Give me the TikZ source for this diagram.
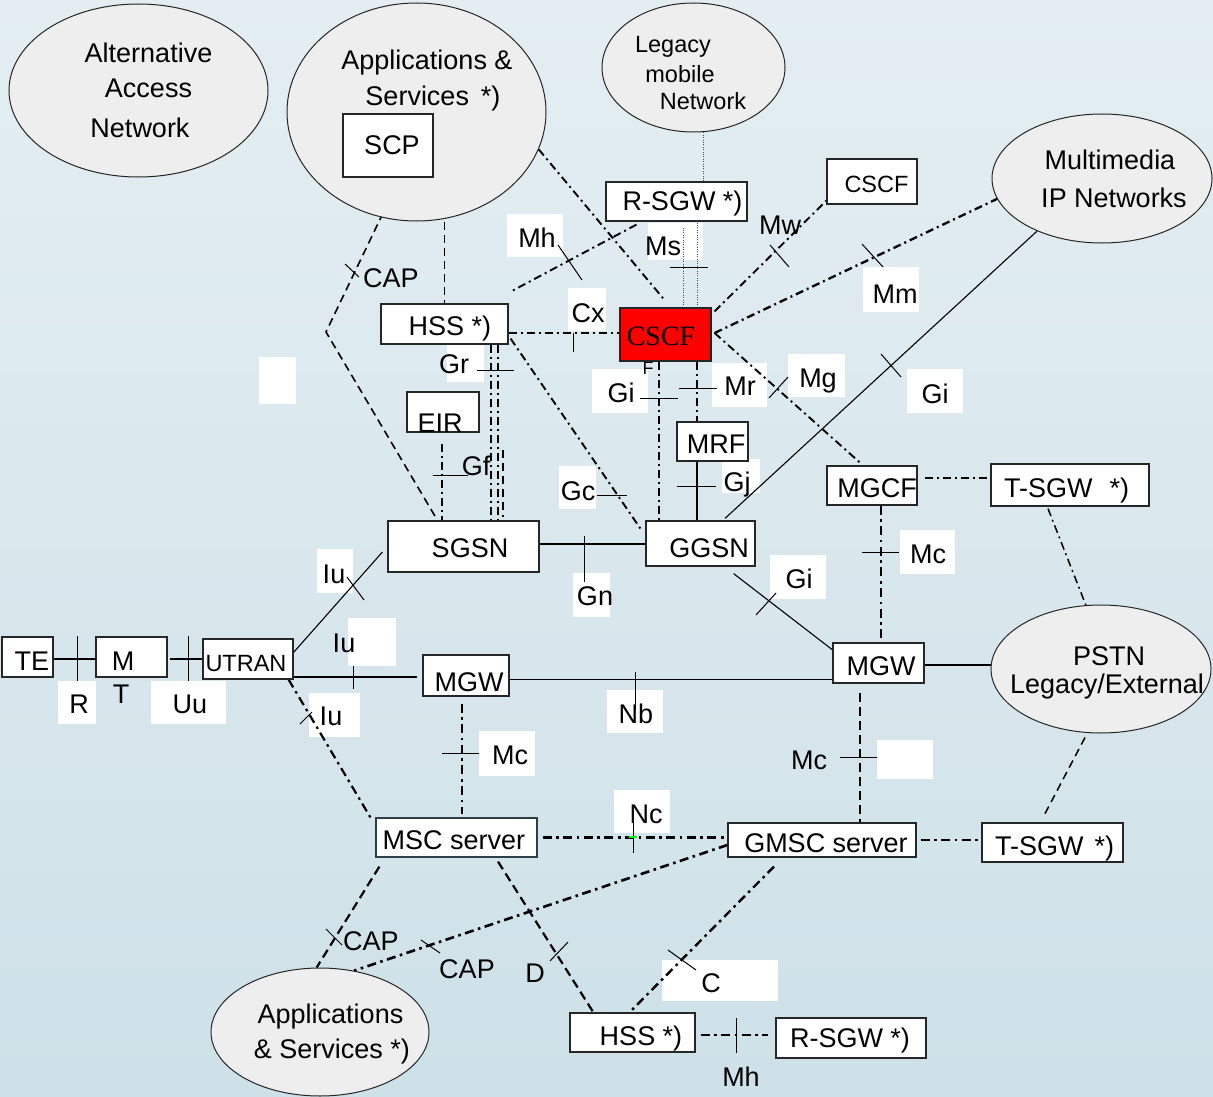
\documentclass[tikz,border=0pt]{standalone}
\usepackage{fontspec}
\usetikzlibrary{shapes.geometric}
\setmainfont{Liberation Sans}
\newfontfamily\timesfont{Liberation Serif}
\pgfdeclarelayer{bg}
\pgfdeclarelayer{wires}
\pgfsetlayers{bg,wires,main}
\definecolor{bgtop}{RGB}{228,238,242}
\definecolor{bgbot}{RGB}{206,225,232}
\definecolor{ovalfill}{RGB}{238,238,238}
\definecolor{slate}{RGB}{45,62,72}
\begin{document}
\begin{tikzpicture}[x=1pt,y=-1pt,
  big/.style={font=\fontsize{27}{31}\selectfont},
  smallf/.style={font=\fontsize{23.5}{27}\selectfont},
  t/.style={inner sep=0pt, anchor=base, big},
  ts/.style={inner sep=0pt, anchor=base, smallf},
  box/.style={draw=black!85, fill=white, line width=1.2pt, inner sep=0pt},
  oval/.style={ellipse, draw=black!85, fill=ovalfill, line width=1pt, inner sep=0pt},
  wbox/.style={fill=white, inner sep=0pt},
  ln/.style={line width=1.1pt},
  dda/.style={line width=1.9pt, dash pattern=on 8pt off 4pt on 2pt off 4pt},
  ddb/.style={line width=2.6pt, dash pattern=on 9pt off 4.5pt on 2.6pt off 4.5pt},
  dsa/.style={line width=1.6pt, dash pattern=on 8pt off 5pt},
  dsb/.style={line width=2.4pt, dash pattern=on 9pt off 5pt},
  dtl/.style={line width=0.7pt, dash pattern=on 1pt off 1.4pt, black!70},
  tk/.style={line width=1pt},
]
\useasboundingbox (0,0) rectangle (1213,1097);

% ---------- background and white label plates ----------
\begin{pgfonlayer}{bg}
  \shade[top color=bgtop, bottom color=bgbot] (0,0) rectangle (1213,1097);
  \node[wbox, minimum width=56, minimum height=43] (p-mh1) at (535,235.5) {};
  \node[wbox, minimum width=55, minimum height=37] (p-ms) at (675.5,241.5) {};
  \node[wbox, minimum width=38, minimum height=43] (p-cx) at (587,309.5) {};
  \node[wbox, minimum width=37, minimum height=38] (p-gr) at (465.5,363) {};
  \node[wbox, minimum width=56, minimum height=44] (p-gi1) at (620,391) {};
  \node[wbox, minimum width=55, minimum height=44] (p-mr) at (739.5,385) {};
  \node[wbox, minimum width=57, minimum height=43] (p-mg) at (816.5,375.5) {};
  \node[wbox, minimum width=56, minimum height=44] (p-gi2) at (935,391) {};
  \node[wbox, minimum width=56, minimum height=45] (p-mm) at (891,289.5) {};
  \node[wbox, minimum width=37, minimum height=47] (p-e1) at (277.5,380.5) {};
  \node[wbox, minimum width=37, minimum height=43] (p-gc) at (577.5,487.5) {};
  \node[wbox, minimum width=38, minimum height=34] (p-gj) at (741,476) {};
  \node[wbox, minimum width=37, minimum height=44] (p-gn) at (591.5,595) {};
  \node[wbox, minimum width=56, minimum height=44] (p-gi3) at (798,577) {};
  \node[wbox, minimum width=55, minimum height=44] (p-mc1) at (927.5,552) {};
  \node[wbox, minimum width=36, minimum height=44] (p-iu1) at (335,571) {};
  \node[wbox, minimum width=48, minimum height=48] (p-iu2) at (372,642) {};
  \node[wbox, minimum width=51, minimum height=44] (p-iu3) at (334.5,715) {};
  \node[wbox, minimum width=38, minimum height=43] (p-r) at (77,702.5) {};
  \node[wbox, minimum width=75, minimum height=43] (p-uu) at (188.5,702.5) {};
  \node[wbox, minimum width=56, minimum height=43] (p-nb) at (635,711.5) {};
  \node[wbox, minimum width=56, minimum height=45] (p-mc2) at (507,753.5) {};
  \node[wbox, minimum width=56, minimum height=39] (p-e2) at (905,759.5) {};
  \node[wbox, minimum width=56, minimum height=43] (p-nc) at (642,811.5) {};
  \node[wbox, minimum width=116, minimum height=41] (p-c) at (720,980.5) {};
\end{pgfonlayer}

% ---------- networks (ovals) ----------
\node[oval, minimum width=259, minimum height=173] (alt) at (138.5,90.5) {};
\node[oval, minimum width=259, minimum height=218] (apps1) at (416.5,112) {};
\node[oval, minimum width=183, minimum height=129] (legacy) at (693.5,67.5) {};
\node[oval, minimum width=220, minimum height=129] (mm) at (1102,178.5) {};
\node[oval, minimum width=220, minimum height=128] (pstn) at (1101,669) {};
\node[oval, minimum width=218, minimum height=128] (apps2) at (320,1032) {};

\node[t] (alt-1) at (148.5,63) {Alternative};
\node[t] (alt-2) at (148.5,98) {Access};
\node[t] (alt-3) at (140,138) {Network};
\node[t] (apps1-1) at (427,70) {Applications \&};
\node[t] (apps1-2) at (433,106) {Services\hspace{12pt}*)};
\node[ts] (legacy-1) at (673,53) {Legacy};
\node[ts] (legacy-2) at (680,83) {mobile};
\node[ts] (legacy-3) at (703,110) {Network};
\node[t] (mm-1) at (1110,170) {Multimedia};
\node[t] (mm-2) at (1114,207) {IP Networks};
\node[t] (pstn-1) at (1109,665) {PSTN};
\node[t] (pstn-2) at (1107,693) {Legacy/External};
\node[t] (apps2-1) at (330.5,1023) {Applications};
\node[t] (apps2-2) at (332,1058) {\& Services *)};

% ---------- network elements ----------
\node[box, minimum width=90, minimum height=63] (scp) at (388,145.5) {};
\node[box, minimum width=141, minimum height=39] (rsgw1) at (676.5,201.5) {};
\node[box, minimum width=90, minimum height=45] (cscf2) at (872,181.5) {};
\node[box, minimum width=127, minimum height=40] (hss1) at (444.5,324) {};
\node[inner sep=0pt, anchor=base, font=\fontsize{18}{20}\selectfont] (cscf-f) at (648,374) {F};
\node[box, fill=red, minimum width=91, minimum height=53] (cscf) at (665.5,334.5) {};
\node[box, minimum width=72, minimum height=40] (eir) at (443,412) {};
\node[box, minimum width=71, minimum height=39] (mrf) at (712.5,441.5) {};
\node[box, minimum width=151, minimum height=51] (sgsn) at (463.5,546.5) {};
\node[box, minimum width=109, minimum height=45] (ggsn) at (700.5,543.5) {};
\node[box, minimum width=90, minimum height=39] (mgcf) at (872,485.5) {};
\node[box, minimum width=158, minimum height=42] (tsgw1) at (1070,485) {};
\node[box, minimum width=51, minimum height=40] (te) at (27.5,657) {};
\node[box, minimum width=71, minimum height=40] (mt) at (131.5,657) {};
\node[box, minimum width=90, minimum height=40] (utran) at (248,659) {};
\node[box, minimum width=86, minimum height=41] (mgw1) at (466,675.5) {};
\node[box, minimum width=91, minimum height=40] (mgw2) at (878.5,663) {};
\node[box, draw=slate, minimum width=161, minimum height=39] (msc) at (456.5,837.5) {};
\node[box, minimum width=188, minimum height=34] (gmsc) at (822,840) {};
\node[box, minimum width=141, minimum height=39] (tsgw2) at (1052.5,842.5) {};
\node[box, minimum width=125, minimum height=39] (hss2) at (632.5,1032.5) {};
\node[box, minimum width=150, minimum height=40] (rsgw2) at (851,1038) {};

\node[t] (scp-t) at (392,155) {SCP};
\node[t] (rsgw1-t) at (682.5,210) {R-SGW *)};
\node[ts] (cscf2-t) at (876.5,192) {CSCF};
\node[t] (hss1-t) at (450,335) {HSS *)};
\node[inner sep=0pt, anchor=base, font=\timesfont\fontsize{28}{31}\selectfont] (cscf-t) at (661,345) {CSCF};
\node[t] (eir-t) at (440,432) {EIR};
\node[t] (mrf-t) at (716,453) {MRF};
\node[t] (sgsn-t) at (470,557) {SGSN};
\node[t] (ggsn-t) at (709,557) {GGSN};
\node[t] (mgcf-t) at (877,497) {MGCF};
\node[t, anchor=base west] (tsgw1-t) at (1004,497) {T-SGW\hspace{17pt}*)};
\node[t] (te-t) at (32,670) {TE};
\node[t] (mt-t) at (123,670) {M};
\node[t] (mt-t2) at (121,703) {T};
\node[ts] (utran-t) at (246,671) {UTRAN};
\node[t] (mgw1-t) at (469,691) {MGW};
\node[t] (mgw2-t) at (881,675) {MGW};
\node[t] (msc-t) at (454,849) {MSC server};
\node[t] (gmsc-t) at (826,852) {GMSC server};
\node[t, anchor=base west] (tsgw2-t) at (995,855) {T-SGW\hspace{11pt}*)};
\node[t] (hss2-t) at (641,1045) {HSS *)};
\node[t] (rsgw2-t) at (850,1047) {R-SGW *)};

% ---------- interface names ----------
\node[t] (l-mh1) at (537,247) {Mh};
\node[t] (l-ms) at (663,255) {Ms};
\node[t] (l-cx) at (588,322) {Cx};
\node[t] (l-gr) at (454,373) {Gr};
\node[t] (l-gi1) at (621,402) {Gi};
\node[t] (l-mr) at (740,395) {Mr};
\node[t] (l-mg) at (818,387) {Mg};
\node[t] (l-gi2) at (935,403) {Gi};
\node[t] (l-mm) at (895,303) {Mm};
\node[t] (l-mw) at (780,234) {Mw};
\node[t] (l-cap1) at (391,287) {CAP};
\node[t] (l-gf) at (476,475) {Gf};
\node[t] (l-gc) at (578,500) {Gc};
\node[t] (l-gj) at (737,491) {Gj};
\node[t] (l-gn) at (595,605) {Gn};
\node[t] (l-gi3) at (799,588) {Gi};
\node[t] (l-mc1) at (928,563) {Mc};
\node[t] (l-iu1) at (334,583) {Iu};
\node[t] (l-iu2) at (344,652) {Iu};
\node[t] (l-iu3) at (331,725) {Iu};
\node[t] (l-r) at (79,713) {R};
\node[t] (l-uu) at (190,713) {Uu};
\node[t] (l-nb) at (636,723) {Nb};
\node[t] (l-mc2) at (510,764) {Mc};
\node[t] (l-mc3) at (809,769) {Mc};
\node[t] (l-nc) at (646,823) {Nc};
\node[t] (l-cap2) at (371,950) {CAP};
\node[t] (l-cap3) at (467,978) {CAP};
\node[t] (l-d) at (535,982) {D};
\node[t] (l-c) at (711,992) {C};
\node[t] (l-mh2) at (741,1086) {Mh};

% ---------- interfaces ----------
\begin{pgfonlayer}{wires}
  \coordinate (capbend) at (326,332);
  \coordinate (mhend) at (510,292);
  \coordinate (grthird) at (503,450);
  \coordinate (cscfout) at ([shift={(3,-1.5)}]cscf.east);

  % upper (IMS / packet) part
  \draw[dsa] ([xshift=12]scp.south) -- (capbend) -- ([xshift=-26]sgsn.north);
  \draw[dsa] (apps1.south -| hss1.north) -- (hss1.north);
  \draw[dda] (apps1.-17) -- ([shift={(-1.5,-8)}]cscf.north);
  \draw[dda] ([shift={(-40,3)}]rsgw1.south) -- (mhend);
  \draw[dtl] ([xshift=9.5]legacy.south) -- ([shift={(26.5,0)}]rsgw1.north);
  \draw[dtl] ([shift={(6.5,6)}]rsgw1.south) -- ([shift={(17.5,0)}]cscf.north);
  \draw[dtl] ([shift={(20.5,1)}]rsgw1.south) -- ([shift={(31.5,0)}]cscf.north);
  \draw[dda] ([shift={(0,9)}]hss1.east) -- ([shift={(0,-1.5)}]cscf.west);
  \draw[dda] ([shift={(3,4)}]cscf.north east) -- ([shift={(0,-4)}]cscf2.south west);
  \draw[dda, line width=2.3pt] (cscfout) -- (mm.191);
  \draw[ln] (mm.219) -- ([shift={(24.5,-2)}]ggsn.north);
  \draw[dda] (cscfout) -- ([shift={(-10,-1)}]mgcf.north);
  \draw[dda, line width=2.3pt] ([shift={(-6.5,0)}]cscf.south) -- ([shift={(-41.5,0)}]ggsn.north);
  \draw[dda, line width=2.3pt] ([shift={(31.5,0)}]cscf.south) -- ([shift={(-15.5,0)}]mrf.north);
  \draw[ln] ([shift={(-15.5,0)}]mrf.south) -- ([shift={(-3.5,0)}]ggsn.north);
  \draw[dda] ([shift={(2,-6)}]hss1.south east) -- ([shift={(-4,-13.5)}]ggsn.west);
  \draw[dda, line width=1.4pt] ([shift={(46.5,0)}]hss1.south) -- ([shift={(27.5,0)}]sgsn.north);
  \draw[dda, line width=1.4pt] ([shift={(53.5,0)}]hss1.south) -- ([shift={(34.5,0)}]sgsn.north);
  \draw[dsa, line width=1.4pt] (grthird) -- ([shift={(39.5,-3)}]sgsn.north);
  \draw[dda] ([shift={(-1,11)}]eir.south) -- ([shift={(-21.5,0)}]sgsn.north);
  \draw[ln] ([shift={(0,-2.5)}]sgsn.east) -- ([shift={(0,0.5)}]ggsn.west);
  \draw[ln] ([shift={(-22,7)}]ggsn.south east) -- ([shift={(6,12)}]mgw2.north west);
  \draw[ddb, line width=2.4pt] ([shift={(9,0)}]mgcf.south) -- ([shift={(2.5,0)}]mgw2.north);
  \draw[dda] ([shift={(7,-7.5)}]mgcf.east) -- ([shift={(0,-7)}]tsgw1.west);
  \draw[dda, line width=1.5pt] ([shift={(-22,2)}]tsgw1.south) -- ([shift={(-15,1)}]pstn.north);
  \draw[ln] ([shift={(0,2)}]mgw2.east) -- ([shift={(0,-4)}]pstn.west);

  % access and circuit part
  \draw[ln] ([shift={(0,2)}]te.east) -- ([shift={(0,2)}]mt.west);
  \draw[ln] ([shift={(2,2)}]mt.east) -- (utran.west);
  \draw[ln] ([shift={(0,14)}]utran.north east) -- ([shift={(-5,5.5)}]sgsn.west);
  \draw[ln] ([shift={(0,18)}]utran.east) -- ([shift={(-5,1.5)}]mgw1.west);
  \draw[ln] ([shift={(0,4)}]mgw1.east) -- ([shift={(0,16.5)}]mgw2.west);
  \draw[ddb, line width=2.2pt] ([shift={(-5,0)}]utran.south east) -- ([shift={(-5,0)}]msc.north west);
  \draw[ddb, line width=2.4pt] ([shift={(-4,7)}]mgw1.south) -- ([shift={(5.5,-3)}]msc.north);
  \draw[ddb, line width=3pt] ([shift={(5,-0.5)}]msc.east) -- ([shift={(0,-3)}]gmsc.west);
  \draw[dsb] ([shift={(-18.5,9)}]mgw2.south) -- ([shift={(38,0)}]gmsc.north);
  \draw[ddb] ([shift={(0,5)}]gmsc.west) -- (apps2.61);
  \draw[dsb, line width=2.2pt] ([shift={(4,9)}]msc.south west) -- (apps2.93);
  \draw[dsb, line width=2.2pt] ([shift={(41.5,4)}]msc.south) -- ([shift={(24,0)}]hss2.north west);
  \draw[ddb, line width=2.4pt] ([shift={(-48,9)}]gmsc.south) -- ([shift={(-3,0)}]hss2.north);
  \draw[ddb] ([shift={(4,0)}]gmsc.east) -- ([shift={(0,-2.5)}]tsgw2.west);
  \draw[dsa, line width=1.5pt] ([shift={(-16,4)}]pstn.south) -- ([shift={(-9.5,-5)}]tsgw2.north);
  \draw[ddb] ([shift={(5,2.5)}]hss2.east) -- ([shift={(-7,-3)}]rsgw2.west);

  % reference point ticks
  \draw[tk] (345,264) -- (359,277);   % CAP
  \draw[tk] (558,245) -- (582,280);   % Mh
  \draw[tk] (670,267) -- (708,267);   % Ms
  \draw[tk] (573,333) -- (573,352);   % Cx
  \draw[tk] (770,245) -- (789,267);   % Mw
  \draw[tk] (862,244) -- (883,267);   % Mm
  \draw[tk] (881,354) -- (901,377);   % Gi
  \draw[tk] (769,398) -- (788,377);   % Mg
  \draw[tk] (640,398) -- (678,398);   % Gi
  \draw[tk] (679,388) -- (717,388);   % Mr
  \draw[tk] (677,486) -- (716,486);   % Gj
  \draw[tk] (597,495) -- (627,495);   % Gc
  \draw[tk] (477,370) -- (514,370);   % Gr
  \draw[tk] (433,475) -- (468,475);   % Gf
  \draw[tk] (584,536) -- (584,582);   % Gn
  \draw[tk] (756,615) -- (776,593);   % Gi
  \draw[tk] (862,552) -- (899,552);   % Mc
  \draw[tk] (77,636) -- (77,681);     % R
  \draw[tk] (188,636) -- (188,681);   % Uu
  \draw[tk] (347,577) -- (364,600);   % Iu
  \draw[tk] (353,666) -- (353,689);   % Iu
  \draw[tk] (300,724) -- (312,712);   % Iu
  \draw[tk] (635,672) -- (635,710);   % Nb
  \draw[tk] (442,753) -- (479,753);   % Mc
  \draw[tk] (633,821) -- (633,853);   % Nc
  \draw[green, line width=2.4pt] (629,837) -- (637,837);
  \draw[tk] (840,757) -- (877,757);   % Mc
  \draw[tk] (326,929) -- (342,945);   % CAP
  \draw[tk] (421,940) -- (440,953);   % CAP
  \draw[tk] (550,961) -- (568,942);   % D
  \draw[tk] (668,950) -- (696,970);   % C
  \draw[tk] (736,1018) -- (736,1053); % Mh
\end{pgfonlayer}
\end{tikzpicture}
\end{document}
